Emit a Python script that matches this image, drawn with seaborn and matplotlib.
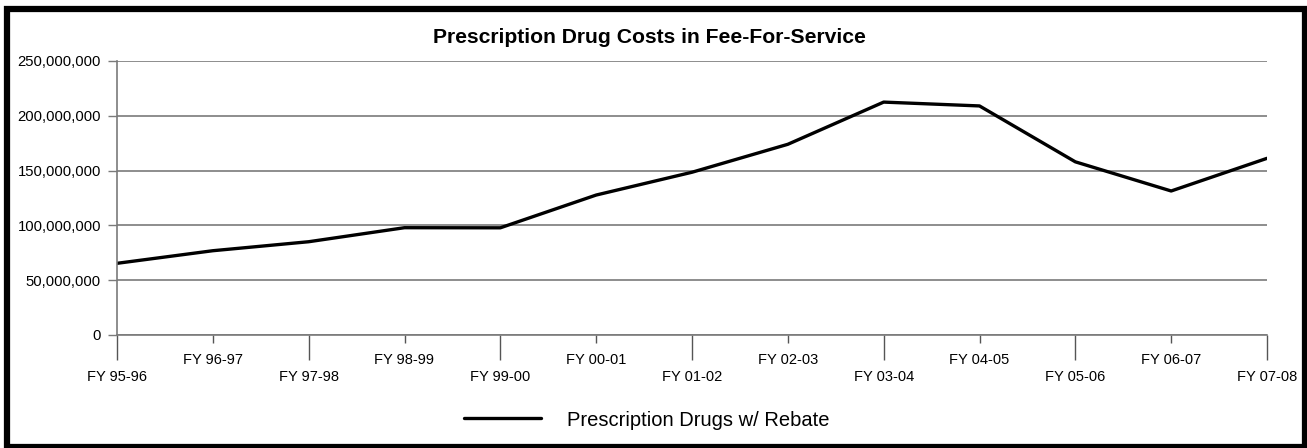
import matplotlib
matplotlib.use("Agg")
import matplotlib.pyplot as plt
import matplotlib.patches as mpatches
from matplotlib.ticker import FuncFormatter
import numpy as np
import pandas as pd
import seaborn as sns

# Fiscal years and Fee-For-Service prescription drug costs (with rebate), in dollars
fiscal_years = ["FY 95-96", "FY 96-97", "FY 97-98", "FY 98-99", "FY 99-00",
                "FY 00-01", "FY 01-02", "FY 02-03", "FY 03-04", "FY 04-05",
                "FY 05-06", "FY 06-07", "FY 07-08"]
drug_costs = [65_400_000, 76_900_000, 85_100_000, 97_900_000, 97_800_000,
              127_700_000, 148_500_000, 174_000_000, 212_500_000, 209_000_000,
              158_000_000, 131_400_000, 161_200_000]
series_name = "Prescription Drugs w/ Rebate"
title = "Prescription Drug Costs in Fee-For-Service"
y_ticks = [0, 50_000_000, 100_000_000, 150_000_000, 200_000_000, 250_000_000]

sns.set_style("white")
plt.rcParams["font.family"] = ["Liberation Sans", "DejaVu Sans"]
plt.rcParams["text.color"] = "black"
plt.rcParams["xtick.labelcolor"] = "black"
plt.rcParams["ytick.labelcolor"] = "black"

W, H = 1307, 448
fig = plt.figure(figsize=(W / 100, H / 100), dpi=100)
ax = fig.add_axes([117 / W, 1 - 335 / H, (1267 - 117) / W, (335 - 61) / H])

df = pd.DataFrame({"pos": np.arange(len(fiscal_years)), "cost": drug_costs})
sns.lineplot(data=df, x="pos", y="cost", ax=ax, color="black", linewidth=2.4,
             label=series_name, legend=False)

ax.set_xlim(0, len(fiscal_years) - 1)
ax.set_ylim(0, 250_000_000)
ax.set_xlabel("")
ax.set_ylabel("")

# Horizontal grid
ax.set_yticks(y_ticks)
ax.yaxis.set_major_formatter(FuncFormatter(lambda v, p: f"{int(v):,}"))
ax.yaxis.grid(True, color="#7a7a7a", linewidth=1.2)
ax.set_axisbelow(True)
ax.tick_params(axis="y", which="major", left=True, length=6.5, width=1,
               color="#7a7a7a", pad=5, labelsize=10.7, labelcolor="black")

# Staggered category labels: long ticks on even positions, short on odd
even_pos = list(range(0, len(fiscal_years), 2))
odd_pos = list(range(1, len(fiscal_years), 2))
ax.set_xticks(even_pos)
ax.set_xticklabels([fiscal_years[i] for i in even_pos])
ax.set_xticks(odd_pos, minor=True)
ax.set_xticklabels([fiscal_years[i] for i in odd_pos], minor=True)
ax.tick_params(axis="x", which="major", bottom=True, length=18, width=1,
               color="#555555", pad=7, labelsize=10.5, labelcolor="black")
ax.tick_params(axis="x", which="minor", bottom=True, length=5.8, width=1,
               color="#555555", pad=7, labelsize=10.5, labelcolor="black")

for side in ["top", "right"]:
    ax.spines[side].set_visible(False)
for side in ["left", "bottom"]:
    ax.spines[side].set_color("#7a7a7a")
    ax.spines[side].set_linewidth(1.2)

fig.text(649 / W, 1 - 43.3 / H, title, ha="center", va="baseline",
         fontsize=15.2, fontweight="bold", color="black")

handles, labels = ax.get_legend_handles_labels()
leg = fig.legend(handles, labels, loc="center",
                 bbox_to_anchor=(647 / W, 1 - 420 / H), frameon=False,
                 fontsize=14.5, handlelength=3.8, handletextpad=1.3)
for t in leg.get_texts():
    t.set_color("black")

# Heavy outer frame
x0, x1 = 6.5 / W, 1305 / W
y0, y1 = 1 - 447 / H, 1 - 9 / H
fig.patches.append(mpatches.Rectangle((x0, y0), x1 - x0, y1 - y0,
                                      transform=fig.transFigure, fill=False,
                                      edgecolor="black", linewidth=4.5))

fig.savefig("out.png", dpi=100)
